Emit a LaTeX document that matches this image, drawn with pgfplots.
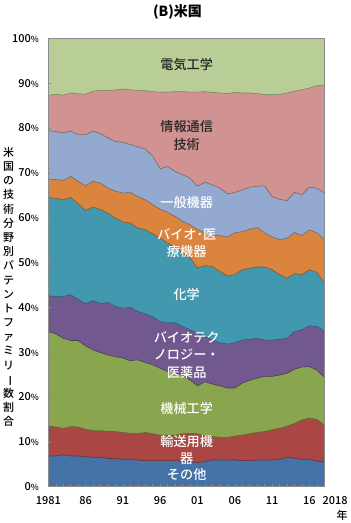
\documentclass[border=0pt]{standalone}
\usepackage{fontspec}
\setmainfont{Noto Sans CJK JP}
\newfontfamily\medfont{Noto Sans CJK JP Medium}
\usepackage{graphicx}
\usepackage{pgfplots}
\usepackage{pgfplotstable}
\pgfplotsset{compat=1.18}

\definecolor{c1}{HTML}{4572A7}
\definecolor{c2}{HTML}{AA4643}
\definecolor{c3}{HTML}{89A54E}
\definecolor{c4}{HTML}{71588F}
\definecolor{c5}{HTML}{4198AF}
\definecolor{c6}{HTML}{DB843D}
\definecolor{c7}{HTML}{93A9CF}
\definecolor{c8}{HTML}{D19392}
\definecolor{c9}{HTML}{B9CD96}
\definecolor{axgray}{HTML}{8C8C8C}

% cumulative boundaries (percent), from bottom: b1 = top of その他 ... b8 = top of 情報通信技術
\pgfplotstableread{
year b1 b2 b3 b4 b5 b6 b7 b8
1981 6.85 13.5 34.6 42.6 64.5 68.6 79.4 87.3
1982 6.85 13.3 34.1 42.4 64.3 68.5 79.2 87.5
1983 7.10 13.0 33.1 42.4 64.0 68.3 78.9 87.3
1984 6.85 13.4 32.6 42.8 64.5 69.2 79.3 87.8
1985 6.85 13.3 32.6 41.8 63.1 68.1 78.5 87.6
1986 6.70 12.8 31.4 40.8 61.6 67.1 78.5 87.5
1987 6.55 12.5 30.5 41.5 62.4 68.1 79.3 88.2
1988 6.55 12.5 29.9 40.8 61.8 67.7 78.7 88.4
1989 6.30 12.3 29.4 41.1 61.0 66.6 77.8 88.4
1990 6.25 12.3 29.0 40.2 59.9 65.9 77.0 88.45
1991 6.10 12.1 28.7 39.8 59.0 65.5 76.8 88.7
1992 6.10 11.9 28.1 40.0 58.8 65.6 76.3 88.5
1993 5.95 11.8 28.3 39.1 57.7 64.7 75.8 88.35
1994 5.80 12.1 27.7 38.5 57.3 64.0 75.3 88.3
1995 5.80 11.8 27.2 37.9 56.4 62.9 73.7 88.1
1996 5.80 11.5 26.4 36.8 55.4 61.9 70.9 87.95
1997 5.80 11.5 25.7 36.5 54.3 61.2 71.4 88.0
1998 5.80 11.5 25.3 36.6 53.4 60.3 70.3 88.1
1999 5.70 11.8 24.9 35.7 52.1 59.2 69.6 88.1
2000 5.60 11.9 23.8 35.0 51.0 58.4 68.8 88.0
2001 5.35 11.8 22.5 34.2 48.8 57.4 67.0 88.0
2002 5.60 11.3 23.4 33.5 49.3 56.6 67.9 88.1
2003 5.95 11.2 22.9 32.7 49.1 56.2 67.3 87.95
2004 5.95 11.0 22.5 32.1 48.0 56.0 66.6 87.8
2005 5.95 11.0 22.0 31.8 47.0 55.7 65.3 87.65
2006 5.95 11.3 22.0 32.1 47.3 56.6 65.6 87.95
2007 5.80 11.5 23.1 32.7 48.4 56.9 66.2 87.8
2008 5.80 11.8 23.7 32.9 48.7 57.4 66.8 87.8
2009 5.95 12.1 24.2 33.1 49.0 57.8 67.0 87.65
2010 5.95 12.3 24.6 32.7 49.0 56.6 67.1 87.4
2011 5.95 12.7 24.6 32.7 48.4 55.7 64.7 87.4
2012 6.10 13.0 24.9 32.9 47.3 55.1 64.1 87.5
2013 6.55 13.5 25.3 33.1 46.5 55.4 63.8 87.8
2014 6.30 14.1 26.2 34.6 47.5 56.7 65.7 88.2
2015 6.10 14.9 26.7 35.0 47.3 56.0 65.1 88.5
2016 6.10 15.3 26.8 35.9 48.4 57.3 66.8 88.9
2017 5.70 15.0 26.0 35.7 47.8 56.6 66.6 89.4
2018 5.60 13.8 24.4 34.8 45.5 55.2 65.5 89.6
}\datatable

\newcommand\pc{{\fontsize{8.5}{8.5}\selectfont\%}}

\begin{document}
\begin{tikzpicture}[x=1bp,y=1bp]
\useasboundingbox (0,0) rectangle (350,523);
\begin{axis}[
  at={(48.3bp,36.3bp)}, anchor=south west,
  scale only axis, width=276bp, height=448.4bp,
  xmin=1981, xmax=2018, ymin=0, ymax=100,
  axis background/.style={fill=c9},
  axis line style={draw=axgray, line width=0.7pt},
  axis on top,
  xtick={1981,1986,1991,1996,2001,2006,2011,2016},
  xticklabels={1981,86,91,96,01,06,11,16},
  minor xtick={1981,...,2018},
  ytick={0,10,...,100},
  yticklabels={0\pc,10\pc,20\pc,30\pc,40\pc,50\pc,60\pc,70\pc,80\pc,90\pc,100\pc},
  xtick pos=left, ytick pos=left,
  tick align=inside,
  major tick length=2.5bp, minor tick length=2.5bp,
  tick style={draw=axgray, line width=0.5pt},
  xticklabel style={font=\medfont\fontsize{11}{11}\selectfont, anchor=center, yshift=-13.6bp},
  yticklabel style={font=\medfont\fontsize{11}{11}\selectfont, anchor=east, xshift=-6bp},
]
\addplot[fill=c8, draw=none] table[x=year,y=b8]{\datatable} \closedcycle;
\addplot[draw=c9!65!black, line width=0.6pt] table[x=year,y=b8]{\datatable};
\addplot[fill=c7, draw=none] table[x=year,y=b7]{\datatable} \closedcycle;
\addplot[draw=c8!65!black, line width=0.6pt] table[x=year,y=b7]{\datatable};
\addplot[fill=c6, draw=none] table[x=year,y=b6]{\datatable} \closedcycle;
\addplot[draw=c7!65!black, line width=0.6pt] table[x=year,y=b6]{\datatable};
\addplot[fill=c5, draw=none] table[x=year,y=b5]{\datatable} \closedcycle;
\addplot[draw=c6!65!black, line width=0.6pt] table[x=year,y=b5]{\datatable};
\addplot[fill=c4, draw=none] table[x=year,y=b4]{\datatable} \closedcycle;
\addplot[draw=c5!65!black, line width=0.6pt] table[x=year,y=b4]{\datatable};
\addplot[fill=c3, draw=none] table[x=year,y=b3]{\datatable} \closedcycle;
\addplot[draw=c4!65!black, line width=0.6pt] table[x=year,y=b3]{\datatable};
\addplot[fill=c2, draw=none] table[x=year,y=b2]{\datatable} \closedcycle;
\addplot[draw=c3!65!black, line width=0.6pt] table[x=year,y=b2]{\datatable};
\addplot[fill=c1, draw=none] table[x=year,y=b1]{\datatable} \closedcycle;
\addplot[draw=c2!65!black, line width=0.6pt] table[x=year,y=b1]{\datatable};
\end{axis}

% title
\node[font=\fontsize{14}{14}\selectfont\bfseries, inner sep=0] at (177.5,511) {(B)米国};

% area labels
\tikzset{lab/.style={font=\medfont\fontsize{13.2}{17.7}\selectfont, align=center, inner sep=0}}
\node[lab, text=black!85] at (186.7,458.7) {電気工学};
\node[lab, text=black!85] at (186.7,387.5) {情報通信\\技術};
\node[lab, text=white] at (186.7,320.7) {一般機器};
\node[lab, text=white] at (186.7,280) {バイオ･医\\療機器};
\node[lab, text=white] at (186.7,229) {化学};
\node[lab, text=white] at (186.7,168) {バイオテク\\ノロジー・\\医薬品};
\node[lab, text=white] at (186.7,114.7) {機械工学};
\node[lab, text=white] at (186.7,73) {輸送用機\\器};
\node[lab, text=white] at (186.7,48) {その他};

% x end labels
\node[font=\medfont\fontsize{11}{11}\selectfont, inner sep=0] at (335,22.7) {2018};
\node[font=\medfont\fontsize{11}{11}\selectfont, inner sep=0] at (342,8) {年};

% vertical y-axis title
\node[font=\medfont\fontsize{11}{14.24}\selectfont, align=center, inner sep=0] at (8.5,236)
 {米\\国\\の\\技\\術\\分\\野\\別\\パ\\テ\\ン\\ト\\フ\\ァ\\ミ\\リ\\\smash{\rotatebox[origin=c]{-90}{ー}}\\数\\割\\合};
\end{tikzpicture}
\end{document}
